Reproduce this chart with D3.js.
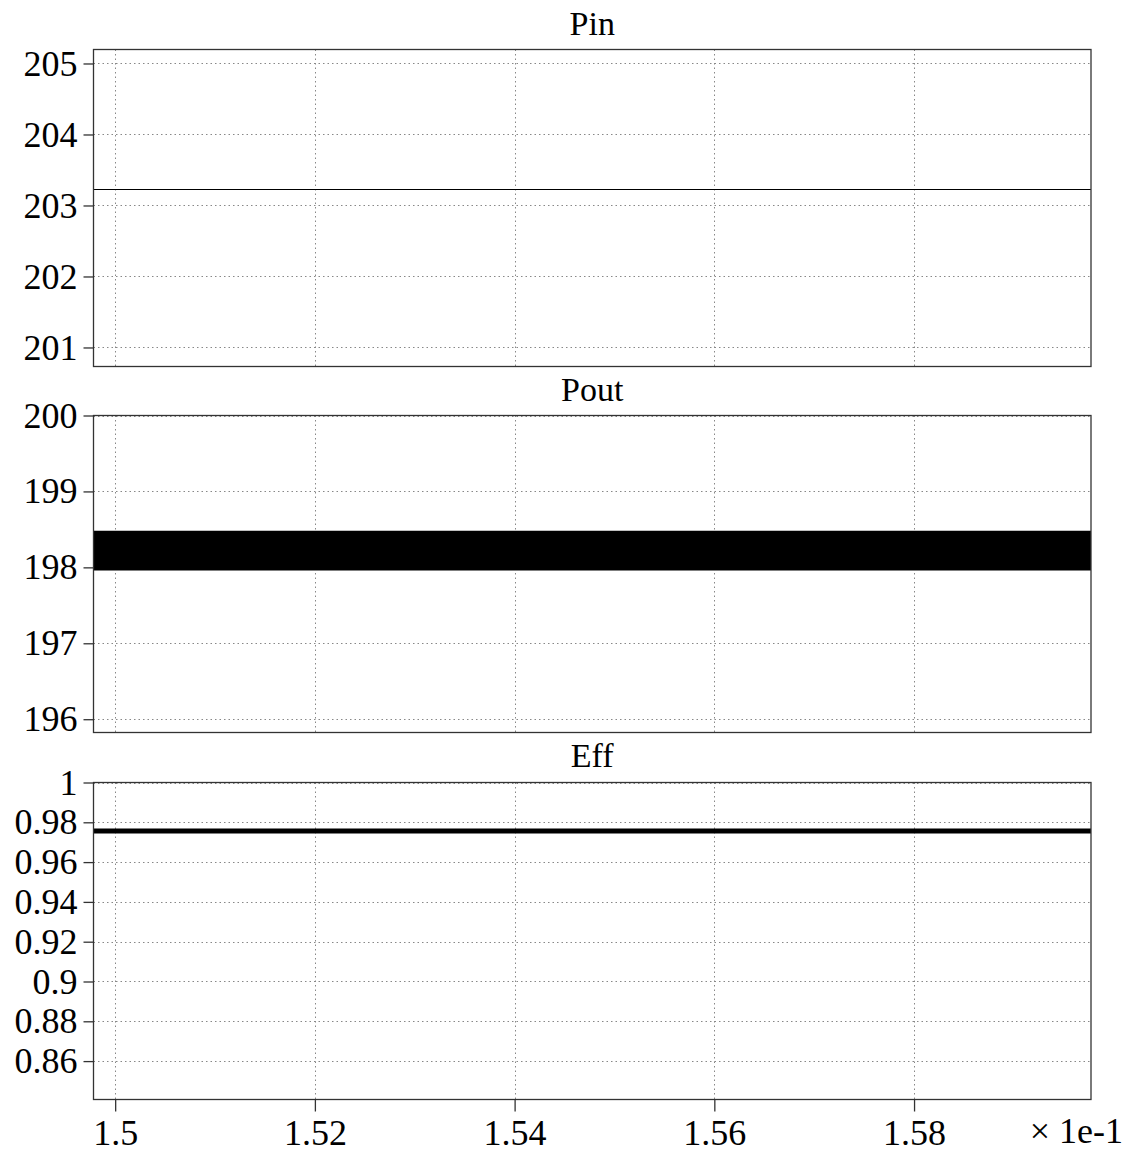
<!DOCTYPE html>
<html><head><meta charset="utf-8">
<script src="https://cdn.jsdelivr.net/npm/d3@7"></script>
<style>
html,body{margin:0;padding:0;background:#fff;}
svg{display:block;}
</style></head>
<body><svg id="c" width="1136" height="1152"></svg>
<script>
// ---- data ----
const timeRange = [1.49783, 1.59772];          // x-axis (× 1e-1)
const xTicks = [1.5, 1.52, 1.54, 1.56, 1.58];
const xTickLabels = ["1.5", "1.52", "1.54", "1.56", "1.58"];

const pinTitle = "Pin";
const pinDomain = [200.732, 205.197];
const pinTicks = [201, 202, 203, 204, 205];
const pinTime = [1.49783, 1.59772];
const pinValues = [203.225, 203.225];

const poutTitle = "Pout";
const poutDomain = [195.825, 200];
const poutTicks = [196, 197, 198, 199, 200];
const poutTime = [1.49783, 1.59772];
const poutMin = [197.957, 197.957];
const poutMax = [198.483, 198.483];

const effTitle = "Eff";
const effDomain = [0.8407, 1];
const effTicks = [0.86, 0.88, 0.9, 0.92, 0.94, 0.96, 0.98, 1];
const effTickLabels = ["0.86", "0.88", "0.9", "0.92", "0.94", "0.96", "0.98", "1"];
const effTime = [1.49783, 1.59772];
const effValues = [0.97567, 0.97567];

const xUnitLabel = "× 1e-1";

// ---- layout ----
const FONT = "'Liberation Serif'";
const svg = d3.select("#c");
const left = 93.5, right = 1091;
const x = d3.scaleLinear().domain(timeRange).range([left, right]);

const panels = [
  {title: pinTitle, domain: pinDomain, ticks: pinTicks, labels: pinTicks.map(String), top: 49.5, bottom: 366.5, titleY: 35},
  {title: poutTitle, domain: poutDomain, ticks: poutTicks, labels: poutTicks.map(String), top: 415.5, bottom: 732.5, titleY: 401},
  {title: effTitle, domain: effDomain, ticks: effTicks, labels: effTickLabels, top: 782.5, bottom: 1099.5, titleY: 767}
];

panels.forEach((p, i) => {
  const y = d3.scaleLinear().domain(p.domain).range([p.bottom, p.top]);
  const g = svg.append("g");
  // grid
  g.selectAll(".vg").data(xTicks).join("line")
    .attr("x1", d => Math.round(x(d)) + 0.5).attr("x2", d => Math.round(x(d)) + 0.5)
    .attr("y1", p.top).attr("y2", p.bottom)
    .attr("stroke", "#888").attr("stroke-width", 1).attr("stroke-dasharray", "1.5,3");
  g.selectAll(".hg").data(p.ticks).join("line")
    .attr("x1", left).attr("x2", right)
    .attr("y1", d => Math.round(y(d)) + 0.5).attr("y2", d => Math.round(y(d)) + 0.5)
    .attr("stroke", "#888").attr("stroke-width", 1).attr("stroke-dasharray", "1.5,3");

  // data
  if (i === 0) {
    g.append("path").datum(pinTime.map((t, k) => [t, pinValues[k]]))
      .attr("d", d3.line().x(d => x(d[0])).y(d => y(d[1])))
      .attr("fill", "none").attr("stroke", "#000").attr("stroke-width", 1.2);
  } else if (i === 1) {
    g.append("path").datum(poutTime.map((t, k) => [t, poutMin[k], poutMax[k]]))
      .attr("d", d3.area().x(d => x(d[0])).y0(d => y(d[1])).y1(d => y(d[2])))
      .attr("fill", "#000");
  } else {
    g.append("path").datum(effTime.map((t, k) => [t, effValues[k]]))
      .attr("d", d3.line().x(d => x(d[0])).y(d => y(d[1])))
      .attr("fill", "none").attr("stroke", "#000").attr("stroke-width", 5);
  }

  // frame
  g.append("rect").attr("x", left).attr("y", p.top)
    .attr("width", right - left).attr("height", p.bottom - p.top)
    .attr("fill", "none").attr("stroke", "#333").attr("stroke-width", 1.3);

  // y axis
  const ya = d3.axisLeft(y).tickValues(p.ticks).tickFormat((d, k) => p.labels[k]).tickSize(10).tickPadding(6);
  const ag = g.append("g").attr("transform", `translate(${left},0)`).call(ya);
  ag.select(".domain").remove();
  ag.selectAll(".tick line").attr("stroke", "#333").attr("stroke-width", 1.3);
  ag.selectAll(".tick text").style("font-family", FONT).style("font-size", "36px").attr("fill", "#000");

  // title
  svg.append("text").attr("x", (left + right) / 2).attr("y", p.titleY)
    .attr("text-anchor", "middle").style("font-family", FONT).style("font-size", "34px").text(p.title);
});

// x axis on bottom panel
const last = panels[2];
const xa = d3.axisBottom(x).tickValues(xTicks).tickFormat((d, k) => xTickLabels[k]).tickSize(12).tickPadding(8);
const xg = svg.append("g").attr("transform", `translate(0,${last.bottom})`).call(xa);
xg.select(".domain").remove();
xg.selectAll(".tick line").attr("stroke", "#333").attr("stroke-width", 1.3);
xg.selectAll(".tick text").style("font-family", FONT).style("font-size", "36px").attr("fill", "#000");

svg.append("text").attr("x", 1123).attr("y", 1143).attr("text-anchor", "end")
  .style("font-family", FONT).style("font-size", "36px").text(xUnitLabel);
</script>
</body></html>
